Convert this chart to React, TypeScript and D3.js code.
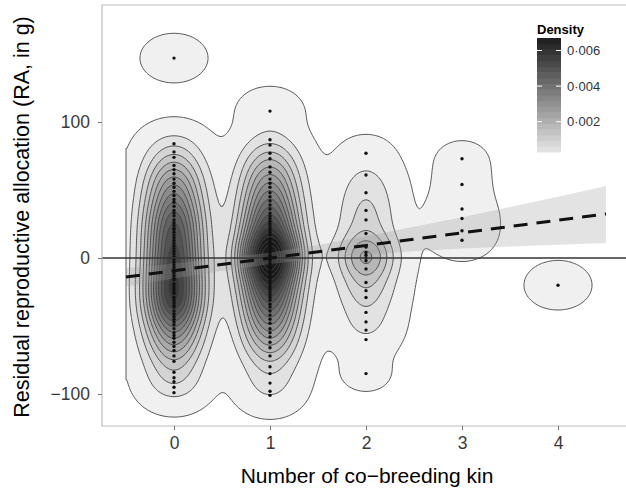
import React, { useEffect, useRef } from 'react';
import * as d3 from 'd3';

// number of co-breeding kin (x categories)
const kinValues = [0, 1, 2, 3, 4];

// residual reproductive allocation (g) per kin group, with the number of records at each value
const raKin0 = [147, 84, 78, 74, 68, 65, 62, 58, 55, 52, 49, 46, 43, 41, 38, 35, 33, 31, 28, 26, 24, 22, 21, 19, 17, 15, 13, 11, 9, 7, 5, 3, 1, -1, -3, -5, -7, -9, -11, -13, -15, -16, -19, -21, -23, -25, -26, -29, -31, -33, -35, -36, -39, -41, -43, -45, -47, -49, -52, -55, -57, -59, -62, -65, -68, -72, -76, -84, -88, -91, -95, -99];
const nKin0 = [2, 2, 1, 2, 2, 2, 2, 3, 2, 3, 3, 2, 2, 3, 3, 3, 3, 3, 2, 3, 2, 3, 2, 3, 2, 3, 2, 3, 3, 3, 2, 3, 3, 3, 3, 3, 2, 3, 3, 3, 3, 3, 3, 3, 3, 4, 3, 3, 3, 3, 3, 3, 3, 3, 3, 2, 2, 2, 3, 2, 2, 2, 2, 2, 2, 2, 2, 2, 1, 1, 1, 1];
const raKin1 = [108, 87, 83, 77, 73, 67, 63, 58, 55, 52, 48, 45, 42, 39, 36, 33, 31, 29, 27, 25, 23, 21, 19, 17, 14, 12, 10, 9, 7, 5, 4, 2, 1, -1, -2, -4, -6, -7, -9, -11, -13, -15, -17, -19, -21, -23, -25, -27, -29, -31, -34, -36, -39, -42, -45, -48, -52, -55, -58, -62, -66, -72, -80, -85, -92, -98, -101];
const nKin1 = [2, 1, 1, 2, 2, 3, 3, 3, 3, 2, 4, 3, 3, 3, 3, 3, 3, 3, 3, 2, 3, 3, 3, 3, 3, 3, 4, 3, 4, 4, 4, 4, 4, 4, 4, 4, 4, 3, 3, 3, 3, 3, 3, 4, 3, 3, 3, 3, 2, 3, 3, 3, 3, 4, 3, 3, 3, 2, 2, 3, 3, 2, 2, 1, 1, 1, 1];
const raKin2 = [77, 61, 48, 35, 28, 18, 8, 4, 2, 0, -2, -8, -18, -24, -29, -40, -47, -53, -60, -85];
const nKin2 = [1, 2, 3, 3, 2, 3, 3, 2, 2, 4, 2, 3, 3, 2, 2, 2, 1, 1, 1, 1];
const raKin3 = [73, 54, 36, 29, 20, 13];
const nKin3 = [1, 1, 1, 1, 1, 1];
const raKin4 = [-20];
const nKin4 = [2];

// 2d density contour levels
const densityBreaks = [0.00008, 0.00058, 0.00108, 0.00158, 0.00208, 0.00258, 0.00308, 0.00358, 0.00408, 0.00458, 0.00508, 0.00558, 0.00608, 0.00658, 0.00708, 0.00758, 0.00808, 0.00858];
const legendTicks = [0.002, 0.004, 0.006];
const legendLabels = ['0·002', '0·004', '0·006'];

// linear fit and its confidence band
const fitX = [-0.5, 4.5];
const fitY = [-14, 32.4];
const bandX = [-0.5, 0, 0.5, 1, 1.5, 2, 2.5, 3, 3.5, 4, 4.5];
const bandLow = [-21, -15, -9.5, -4.5, -0.5, 2.5, 5, 7, 8.5, 9.8, 11];
const bandHigh = [-7.5, -4, -0.5, 4, 9.5, 16, 23, 30, 37.5, 45, 53];

const xTicks = [0, 1, 2, 3, 4];
const yTicks = [-100, 0, 100];

const font = '"Liberation Sans", Arial, Helvetica, sans-serif';

const App = () => {
  const svgRef = useRef<SVGSVGElement>(null);

  useEffect(() => {
    const svg = d3.select(svgRef.current);
    svg.selectAll('*').remove();

    const left = 102, right = 630, top = 5, bottom = 426;
    const x = d3.scaleLinear().domain([0, 4]).range([174, 558]);
    const y = d3.scaleLinear().domain([-100, 100]).range([394, 122]);

    const groups = [
      { ys: raKin0, ns: nKin0 },
      { ys: raKin1, ns: nKin1 },
      { ys: raKin2, ns: nKin2 },
      { ys: raKin3, ns: nKin3 },
      { ys: raKin4, ns: nKin4 }
    ];
    const points = groups.flatMap((g, k) => g.ys.map(v => [kinValues[k], v]));
    const total = d3.sum(groups, g => d3.sum(g.ns));

    // weighted gaussian kernel density on a grid
    const bwKin = 0.21, bwRA = 10.8;
    const gx0 = -0.5, gx1 = 4.5;
    const gy0 = y.invert(bottom), gy1 = y.invert(top);
    const nx = 220, ny = 260;
    const stepX = (gx1 - gx0) / nx, stepY = (gy1 - gy0) / ny;
    const norm = 1 / (total * 2 * Math.PI * bwKin * bwRA);
    const kx = kinValues.map(k => d3.range(nx).map(i => {
      const dx = gx0 + (i + 0.5) * stepX - k;
      return Math.exp(-dx * dx / (2 * bwKin * bwKin));
    }));
    const values = new Float64Array(nx * ny);
    groups.forEach((g, k) => {
      g.ys.forEach((v, p) => {
        const w = g.ns[p] * norm;
        for (let j = 0; j < ny; j++) {
          const dy = gy1 - (j + 0.5) * stepY - v;
          const ky = Math.exp(-dy * dy / (2 * bwRA * bwRA));
          if (ky < 1e-7) continue;
          const row = j * nx;
          const kk = kx[k];
          for (let i = 0; i < nx; i++) values[row + i] += kk[i] * ky * w;
        }
      });
    });

    const contours = d3.contours().size([nx, ny]).thresholds(densityBreaks)(Array.from(values));
    const toPx = d3.geoTransform({
      point(cx, cy) {
        this.stream.point(x(gx0 + cx * stepX), y(gy1 - cy * stepY));
      }
    });
    const path = d3.geoPath(toPx);
    const fill = d3.scaleLinear<string>().domain([0.00008, 0.0076]).range(['#f0f0f0', '#1a1a1a']).clamp(true);

    svg.append('defs').append('clipPath').attr('id', 'panel')
      .append('rect').attr('x', left).attr('y', top).attr('width', right - left).attr('height', bottom - top);

    const plot = svg.append('g').attr('clip-path', 'url(#panel)');

    plot.selectAll('path.level')
      .data(contours)
      .enter()
      .append('path')
      .attr('class', 'level')
      .attr('d', d => path(d as any))
      .attr('fill', d => fill(d.value))
      .attr('stroke', '#444')
      .attr('stroke-width', 0.9);

    // confidence band
    const band = d3.area<number>()
      .x((d, i) => x(bandX[i]))
      .y0((d, i) => y(bandLow[i]))
      .y1((d, i) => y(bandHigh[i]));
    plot.append('path').attr('d', band(bandX)).attr('fill', '#999').attr('fill-opacity', 0.28);

    // observations
    plot.selectAll('circle')
      .data(points)
      .enter()
      .append('circle')
      .attr('cx', d => x(d[0]))
      .attr('cy', d => y(d[1]))
      .attr('r', 1.7)
      .attr('fill', '#111');

    plot.append('line')
      .attr('x1', left).attr('x2', right)
      .attr('y1', y(0)).attr('y2', y(0))
      .attr('stroke', '#333').attr('stroke-width', 1.3);

    const fit = d3.line<number>().x((d, i) => x(fitX[i])).y((d, i) => y(fitY[i]));
    plot.append('path').attr('d', fit(fitX))
      .attr('fill', 'none').attr('stroke', '#111').attr('stroke-width', 3)
      .attr('stroke-dasharray', '14,9');

    // panel border
    svg.append('path')
      .attr('d', `M${right},${top}H${left}V${bottom}H${right}`)
      .attr('fill', 'none').attr('stroke', '#bdbdbd').attr('stroke-width', 1.2);

    // axes
    const yAxis = svg.append('g').attr('transform', `translate(${left},0)`)
      .call(d3.axisLeft(y).tickValues(yTicks).tickSize(4).tickPadding(8).tickFormat(d3.format('d')));
    const xAxis = svg.append('g').attr('transform', `translate(0,${bottom})`)
      .call(d3.axisBottom(x).tickValues(xTicks).tickSize(4).tickPadding(7).tickFormat(d3.format('d')));
    [xAxis, yAxis].forEach(a => {
      a.select('.domain').remove();
      a.selectAll('line').attr('stroke', '#777');
      a.selectAll('text').attr('font-family', font).attr('font-size', 17.5).attr('fill', '#3a3a3a');
    });

    svg.append('text')
      .attr('x', 367).attr('y', 483)
      .attr('text-anchor', 'middle')
      .attr('font-family', font).attr('font-size', 21)
      .text('Number of co−breeding kin');

    svg.append('text')
      .attr('transform', 'translate(29,217) rotate(-90)')
      .attr('text-anchor', 'middle')
      .attr('font-family', font).attr('font-size', 21.5)
      .text('Residual reproductive allocation (RA, in g)');

    // legend
    const lx = 537, lw = 24;
    const ly = d3.scaleLinear().domain([0.0003, 0.0067]).range([152, 38]);
    const legendFill = d3.scaleLinear<string>().domain([0.0003, 0.0067]).range(['#e6e6e6', '#1c1c1c']);
    const legend = svg.append('g');
    legend.append('text')
      .attr('x', lx).attr('y', 34)
      .attr('font-family', font).attr('font-size', 13).attr('font-weight', 'bold')
      .text('Density');
    const bins = d3.range(20).map(i => 0.0003 + (i + 0.5) * (0.0064 / 20));
    legend.selectAll('rect')
      .data(bins)
      .enter()
      .append('rect')
      .attr('x', lx)
      .attr('y', d => ly(d + 0.00016))
      .attr('width', lw)
      .attr('height', Math.abs(ly(0) - ly(0.00032)) + 0.5)
      .attr('fill', d => legendFill(d));
    legendTicks.forEach((t, i) => {
      legend.append('line').attr('x1', lx).attr('x2', lx + 5).attr('y1', ly(t)).attr('y2', ly(t))
        .attr('stroke', '#fff').attr('stroke-width', 1);
      legend.append('line').attr('x1', lx + lw - 5).attr('x2', lx + lw).attr('y1', ly(t)).attr('y2', ly(t))
        .attr('stroke', '#fff').attr('stroke-width', 1);
      legend.append('text')
        .attr('x', lx + lw + 6).attr('y', ly(t)).attr('dy', '0.35em')
        .attr('font-family', font).attr('font-size', 13).attr('fill', '#333')
        .text(legendLabels[i]);
    });
  }, []);

  return (
    <svg ref={svgRef} width="626" height="491" style={{ position: 'absolute', left: 0, top: 0, background: '#fff' }}></svg>
  );
};

export default App;
